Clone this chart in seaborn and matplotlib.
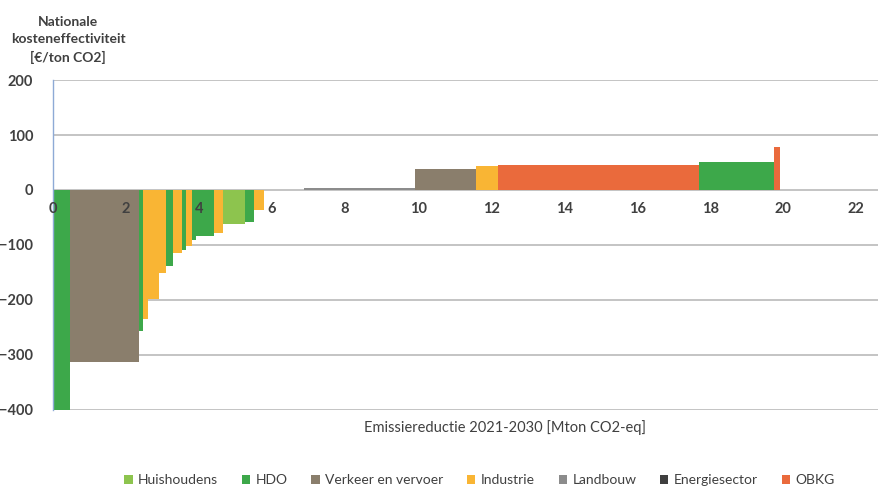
import numpy as np
import pandas as pd
import seaborn as sns
import matplotlib.pyplot as plt
from matplotlib.patches import Patch

# sector per maatregel, breedte (Mton CO2-eq) en kosten (EUR/ton CO2)
sectors = ['HDO', 'Verkeer en vervoer', 'HDO', 'Industrie', 'Industrie', 'Industrie',
           'HDO', 'Industrie', 'HDO', 'Industrie', 'HDO', 'HDO', 'Industrie',
           'Huishoudens', 'HDO', 'Industrie', 'Landbouw', 'Landbouw',
           'Verkeer en vervoer', 'Industrie', 'OBKG', 'HDO', 'OBKG']
reduction = [0.47, 1.88, 0.12, 0.13, 0.32, 0.18, 0.20, 0.23, 0.12, 0.16, 0.10,
             0.49, 0.27, 0.60, 0.25, 0.25, 1.10, 3.05, 1.66, 0.61, 5.51, 2.05, 0.17]
cost = [-405, -313, -257, -235, -198, -151, -139, -115, -109, -102, -91, -84,
        -79, -61, -58, -36, 0, 3, 39, 43, 46, 51, 78]

legend_order = ['Huishoudens', 'HDO', 'Verkeer en vervoer', 'Industrie',
                'Landbouw', 'Energiesector', 'OBKG']
palette = {'Huishoudens': '#8dc44e', 'HDO': '#3da84a', 'Verkeer en vervoer': '#8a7e6c',
           'Industrie': '#f9b534', 'Landbouw': '#8c8c8c', 'Energiesector': '#3f3f3f',
           'OBKG': '#ea6a3c'}

df = pd.DataFrame({'sector': sectors, 'width': reduction, 'cost': cost})
df['left'] = df['width'].cumsum() - df['width']

sns.set_theme(style='white')
plt.rcParams['font.family'] = ['Lato', 'DejaVu Sans']
text_col = '#404040'

fig = plt.figure(figsize=(8.8, 4.88), dpi=100)
ax = fig.add_axes([0.060, 0.160, 0.938, 0.676])
ax.set_axisbelow(False)

yticks = [-400, -300, -200, -100, 0, 100, 200]
for yv in yticks:
    ax.axhline(yv, color='#b4b4b4', lw=1.1, zorder=0)

ax.bar(df['left'], df['cost'], width=df['width'], align='edge',
       color=[palette[s] for s in df['sector']], linewidth=0, zorder=1)

ax.set_xlim(0, 22.6)
ax.set_ylim(-400, 200)
ax.set_yticks(yticks)
ax.set_xticks(np.arange(0, 23, 2))

ax.spines['bottom'].set_position(('data', 0))
ax.spines['bottom'].set_visible(False)
ax.spines['top'].set_visible(False)
ax.spines['right'].set_visible(False)
ax.spines['left'].set_color('#8eaad6')
ax.spines['left'].set_linewidth(1.0)

ax.tick_params(axis='x', length=0, pad=9, labelsize=10.5, labelcolor=text_col)
ax.tick_params(axis='y', length=6, width=1, color='#b4b4b4', pad=8,
               labelsize=10.5, labelcolor=text_col)
for lab in ax.get_xticklabels() + ax.get_yticklabels():
    lab.set_fontweight('bold')

fig.text(68 / 880, 1 - 40 / 488, 'Nationale\nkosteneffectiviteit\n[€/ton CO2]',
         ha='center', va='center', fontsize=10, fontweight='bold',
         color=text_col, linespacing=1.5)
fig.text(505 / 880, 1 - 428 / 488, 'Emissiereductie 2021-2030 [Mton CO2-eq]',
         ha='center', va='center', fontsize=10.5, color=text_col)

handles = [Patch(facecolor=palette[s], edgecolor='none', label=s) for s in legend_order]
fig.legend(handles=handles, loc='center', bbox_to_anchor=(0.545, 0.016), ncol=7,
           frameon=False, fontsize=10, handlelength=0.6, handleheight=0.6,
           handletextpad=0.4, columnspacing=1.7, labelcolor=text_col)

fig.savefig('out.png', dpi=100)
